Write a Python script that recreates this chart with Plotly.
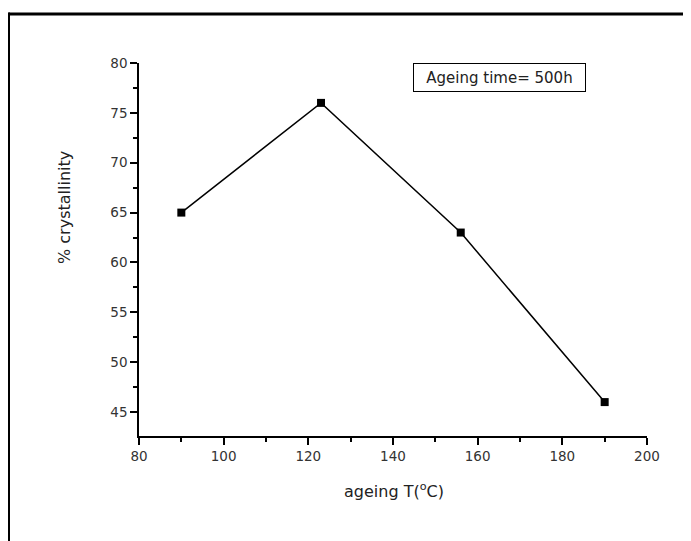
import plotly.graph_objects as go

ageing_temp = [90, 123, 156, 190]
crystallinity = [65, 76, 63, 46]
x_ticks = [80, 100, 120, 140, 160, 180, 200]
y_ticks = [45, 50, 55, 60, 65, 70, 75, 80]

# page body has an 8px margin; work in image pixel coords and shift
OFF = 8
W, H = 691 - OFF, 541 - OFF
L, T = 139 - OFF, 63 - OFF
pw, ph = 508, 373
R, B = W - L - pw, H - T - ph

def px(x):
    return (x - OFF - L) / pw

def py(y):
    return (H - B - (y - OFF)) / ph

fig = go.Figure()
fig.add_trace(go.Scatter(
    x=ageing_temp, y=crystallinity, mode="lines+markers",
    line=dict(color="black", width=1.5),
    marker=dict(symbol="square", size=8, color="black"),
    showlegend=False, cliponaxis=False,
))

font = dict(family="DejaVu Sans", size=13.5, color="#333333")
title_font = dict(family="DejaVu Sans", size=16, color="#222222")
fig.update_layout(
    width=W, height=H,
    margin=dict(l=L, r=R, t=T, b=B),
    plot_bgcolor="white", paper_bgcolor="white",
    font=font,
    xaxis=dict(
        range=[80, 200], tickvals=x_ticks, ticks="outside", ticklen=7, tickwidth=1.5,
        tickcolor="black", showline=True, linecolor="black", linewidth=1.5,
        showgrid=False, zeroline=False, tickfont=font,
        minor=dict(dtick=10, tick0=80, ticks="outside", ticklen=4, tickcolor="black", tickwidth=1.5, showgrid=False),
    ),
    yaxis=dict(
        range=[42.6, 80], tickvals=y_ticks, ticks="outside", ticklen=7, tickwidth=1.5,
        tickcolor="black", showline=True, linecolor="black", linewidth=1.5,
        showgrid=False, zeroline=False, tickfont=font,
        minor=dict(dtick=2.5, tick0=45, ticks="outside", ticklen=4, tickcolor="black", tickwidth=1.5, showgrid=False),
    ),
    annotations=[
        dict(text="Ageing time= 500h", xref="paper", yref="paper",
             x=px(499.5), y=py(77), xanchor="center", yanchor="middle",
             width=165, height=21, align="center", valign="middle",
             showarrow=False, bordercolor="black", borderwidth=1, borderpad=3,
             font=dict(family="DejaVu Sans", size=15, color="#222222")),
        dict(text="ageing T(<sup>o</sup>C)", xref="paper", yref="paper",
             x=px(394), y=py(491), xanchor="center", yanchor="middle",
             showarrow=False, font=title_font),
        dict(text="% crystallinity", xref="paper", yref="paper",
             x=px(64), y=py(208), xanchor="center", yanchor="middle",
             showarrow=False, textangle=-90, font=title_font),
    ],
    shapes=[
        dict(type="line", xref="paper", yref="paper", x0=px(8.5), x1=px(720), y0=py(14), y1=py(14),
             line=dict(color="black", width=3)),
        dict(type="line", xref="paper", yref="paper", x0=px(8.5), x1=px(8.5), y0=py(12.5), y1=py(580),
             line=dict(color="black", width=3)),
    ],
)

fig.write_html("out.html")
